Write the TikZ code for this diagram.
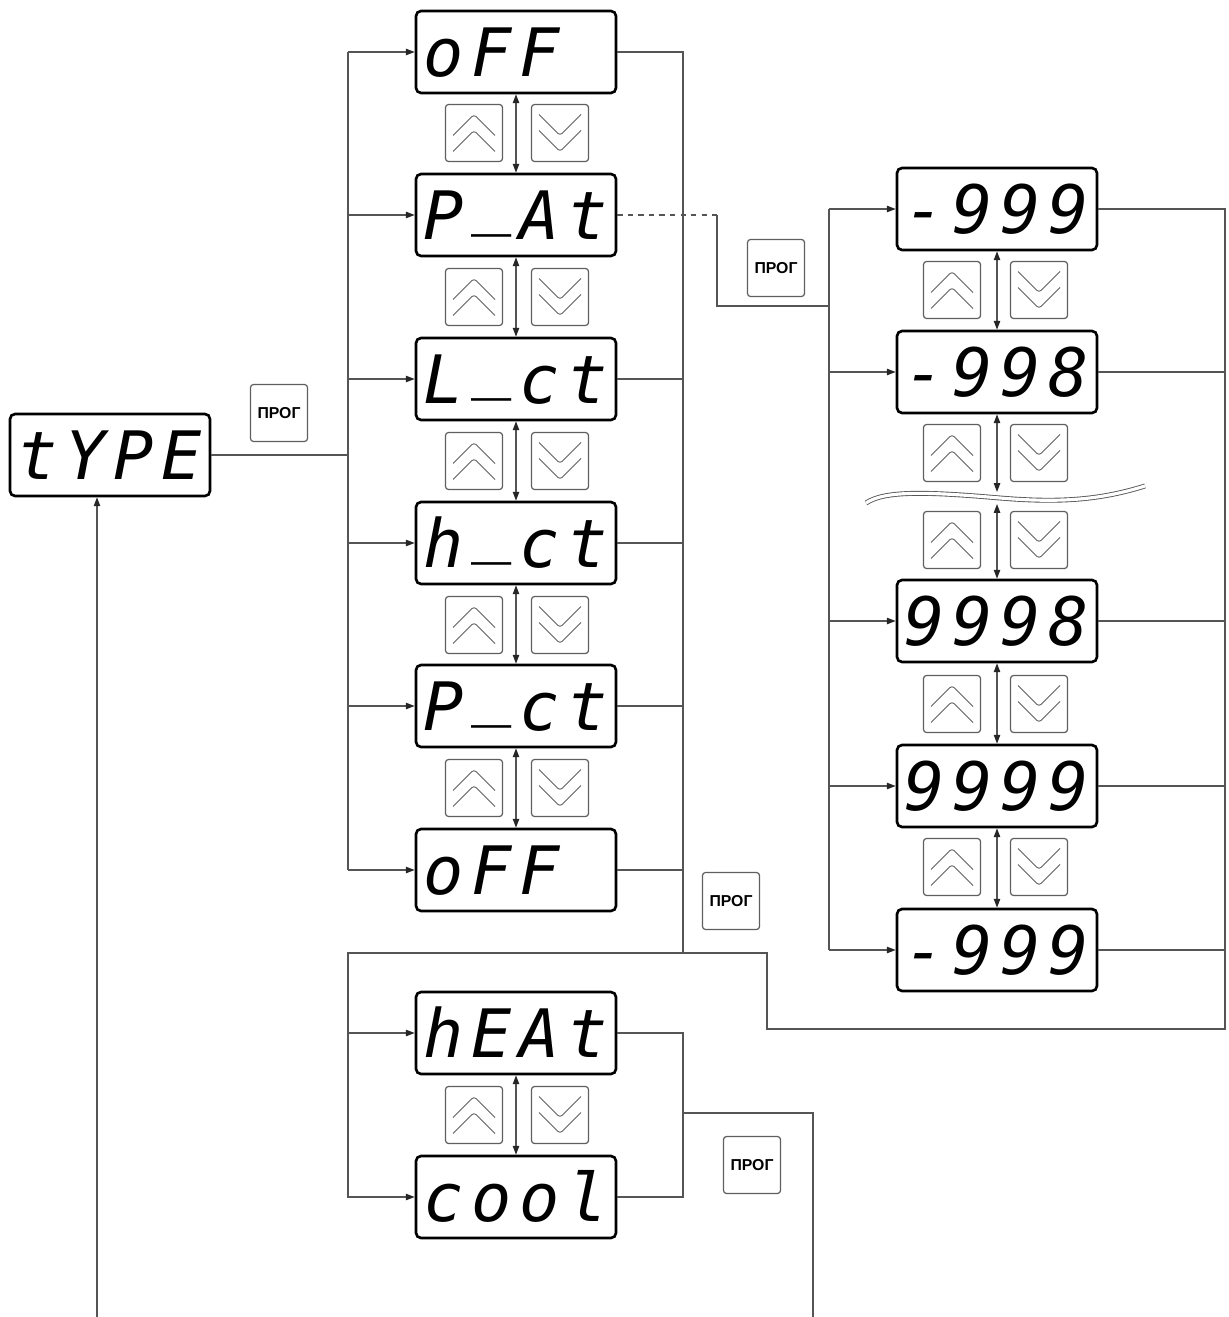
\documentclass[tikz,border=0pt]{standalone}
\usepackage{fontspec}
\usepackage{tikz}
\usetikzlibrary{positioning,calc,arrows.meta}
\newfontfamily\segfont{DejaVu Sans Mono}[LetterSpace=12]
\newfontfamily\keyfont{Liberation Sans}
\definecolor{wireGray}{HTML}{555555}
\definecolor{keyGray}{HTML}{5f5f5f}
\newcommand\segbar{\kern.12em\raisebox{.26em}{\_}\kern.12em}
\tikzset{
  disp/.style={draw, line width=1.5pt, rounded corners=0.1cm, minimum width=4cm, minimum height=1.64cm,
    inner xsep=0.14cm, text width=3.72cm, align=left, text height=0.97cm, text depth=0pt,
    font=\segfont\itshape\fontsize{38}{38}\selectfont},
  key/.style={draw=keyGray, line width=0.7pt, rounded corners=0.06cm, minimum size=1.14cm, inner sep=0pt},
  keyup/.style={key, path picture={
    \draw[line width=0.5pt] ([shift={(-0.42cm,-0.05cm)}]path picture bounding box.center) -- ++(0.42cm,0.42cm) -- ++(0.42cm,-0.42cm);
    \draw[line width=0.5pt] ([shift={(-0.42cm,-0.37cm)}]path picture bounding box.center) -- ++(0.42cm,0.42cm) -- ++(0.42cm,-0.42cm);}},
  keydown/.style={key, path picture={
    \draw[line width=0.5pt] ([shift={(-0.42cm,0.05cm)}]path picture bounding box.center) -- ++(0.42cm,-0.42cm) -- ++(0.42cm,0.42cm);
    \draw[line width=0.5pt] ([shift={(-0.42cm,0.37cm)}]path picture bounding box.center) -- ++(0.42cm,-0.42cm) -- ++(0.42cm,0.42cm);}},
  prog/.style={key, font=\keyfont\bfseries\fontsize{9}{10}\selectfont},
  wire/.style={draw=wireGray, line width=0.75pt},
  >={Triangle[length=5pt,width=3.6pt,color=black!85]}
}

\begin{document}
\begin{tikzpicture}[x=0.02cm, y=-0.02cm]
    \useasboundingbox (0,0) rectangle (1228,1317);

    \node[disp] (type) at (110,455) {tYPE};
    \node[prog] (p1) at (279,413) {ПРОГ};

    \node[disp] (m1) at (516,52) {oFF};
    \node[disp] (m2) at (516,215) {P\segbar At};
    \node[disp] (m3) at (516,379) {L\segbar ct};
    \node[disp] (m4) at (516,543) {h\segbar ct};
    \node[disp] (m5) at (516,706) {P\segbar ct};
    \node[disp] (m6) at (516,870) {oFF};
    \node[disp] (h1) at (516,1033) {hEAt};
    \node[disp] (h2) at (516,1197) {cool};

    \node[keyup] (mu1) at (474,133) {};   \node[keydown] (md1) at (560,133) {};
    \node[keyup] (mu2) at (474,297) {};   \node[keydown] (md2) at (560,297) {};
    \node[keyup] (mu3) at (474,461) {};   \node[keydown] (md3) at (560,461) {};
    \node[keyup] (mu4) at (474,625) {};   \node[keydown] (md4) at (560,625) {};
    \node[keyup] (mu5) at (474,788) {};   \node[keydown] (md5) at (560,788) {};
    \node[keyup] (hu1) at (474,1115) {};  \node[keydown] (hd1) at (560,1115) {};

    \node[prog] (p2) at (776,268) {ПРОГ};
    \node[prog] (p3) at (731,901) {ПРОГ};
    \node[prog] (p4) at (752,1165) {ПРОГ};

    \node[disp] (r1) at (997,209) {-999};
    \node[disp] (r2) at (997,372) {-998};
    \node[disp] (r3) at (997,621) {9998};
    \node[disp] (r4) at (997,786) {9999};
    \node[disp] (r5) at (997,950) {-999};

    \node[keyup] (ru1) at (952,290) {};   \node[keydown] (rd1) at (1039,290) {};
    \node[keyup] (ru2) at (952,453) {};   \node[keydown] (rd2) at (1039,453) {};
    \node[keyup] (ru3) at (952,540) {};   \node[keydown] (rd3) at (1039,540) {};
    \node[keyup] (ru4) at (952,704) {};   \node[keydown] (rd4) at (1039,704) {};
    \node[keyup] (ru5) at (952,867) {};   \node[keydown] (rd5) at (1039,867) {};

    \coordinate (lbus) at (348,953);
    \coordinate (rbus) at (683,953);
    \coordinate (ret) at (767,1029);
    \coordinate (rr) at (1225,1029);
    \coordinate (jog) at (717,306);
    \coordinate (rl) at (829,306);
    \coordinate (hb) at (683,1113);
    \coordinate (outb) at (813,1317);
    \coordinate (inb) at (97,1317);
    \coordinate (wtop) at (997,492);
    \coordinate (wbot) at (997,504);

    \draw[wire] (type.east) -- (type.east -| lbus);
    \draw[wire] (m1.west -| lbus) -- (m6.west -| lbus);
    \draw[wire, ->] (m1.west -| lbus) -- (m1.west);
    \draw[wire, ->] (m2.west -| lbus) -- (m2.west);
    \draw[wire, ->] (m3.west -| lbus) -- (m3.west);
    \draw[wire, ->] (m4.west -| lbus) -- (m4.west);
    \draw[wire, ->] (m5.west -| lbus) -- (m5.west);
    \draw[wire, ->] (m6.west -| lbus) -- (m6.west);

    \draw[wire] (m1.east) -- (m1.east -| rbus) -- (rbus);
    \draw[wire] (m3.east) -- (m3.east -| rbus);
    \draw[wire] (m4.east) -- (m4.east -| rbus);
    \draw[wire] (m5.east) -- (m5.east -| rbus);
    \draw[wire] (m6.east) -- (m6.east -| rbus);
    \draw[wire, dashed] (m2.east) -- (m2.east -| jog);
    \draw[wire] (m2.east -| jog) -- (jog) -- (rl);

    \draw[wire, <->] (m1.south) -- (m2.north);
    \draw[wire, <->] (m2.south) -- (m3.north);
    \draw[wire, <->] (m3.south) -- (m4.north);
    \draw[wire, <->] (m4.south) -- (m5.north);
    \draw[wire, <->] (m5.south) -- (m6.north);
    \draw[wire, <->] (h1.south) -- (h2.north);

    \draw[wire, ->] (rbus) -- (lbus) -- (h2.west -| lbus) -- (h2.west);
    \draw[wire, ->] (h1.west -| lbus) -- (h1.west);
    \draw[wire] (rbus) -- (rbus -| ret) -- (ret) -- (rr) -- (r1.east -| rr) -- (r1.east);
    \draw[wire] (r2.east) -- (r2.east -| rr);
    \draw[wire] (r3.east) -- (r3.east -| rr);
    \draw[wire] (r4.east) -- (r4.east -| rr);
    \draw[wire] (r5.east) -- (r5.east -| rr);

    \draw[wire] (r1.west -| rl) -- (r5.west -| rl);
    \draw[wire, ->] (r1.west -| rl) -- (r1.west);
    \draw[wire, ->] (r2.west -| rl) -- (r2.west);
    \draw[wire, ->] (r3.west -| rl) -- (r3.west);
    \draw[wire, ->] (r4.west -| rl) -- (r4.west);
    \draw[wire, ->] (r5.west -| rl) -- (r5.west);

    \draw[wire, <->] (r1.south) -- (r2.north);
    \draw[wire, <->] (r2.south) -- (wtop);
    \draw[wire, <->] (wbot) -- (r3.north);
    \draw[wire, <->] (r3.south) -- (r4.north);
    \draw[wire, <->] (r4.south) -- (r5.north);
    \draw[draw=wireGray, line width=0.5pt, double=white, double distance=1.8pt]
        (866,503) .. controls (885,490) and (930,492) .. (1000,498)
        .. controls (1060,503) and (1100,500) .. (1145,486);

    \draw[wire] (h1.east) -- (h1.east -| hb) -- (h2.east -| hb) -- (h2.east);
    \draw[wire] (hb) -- (hb -| outb) -- (outb);
    \draw[wire, ->] (inb) -- (inb |- type.south);
\end{tikzpicture}
\end{document}
